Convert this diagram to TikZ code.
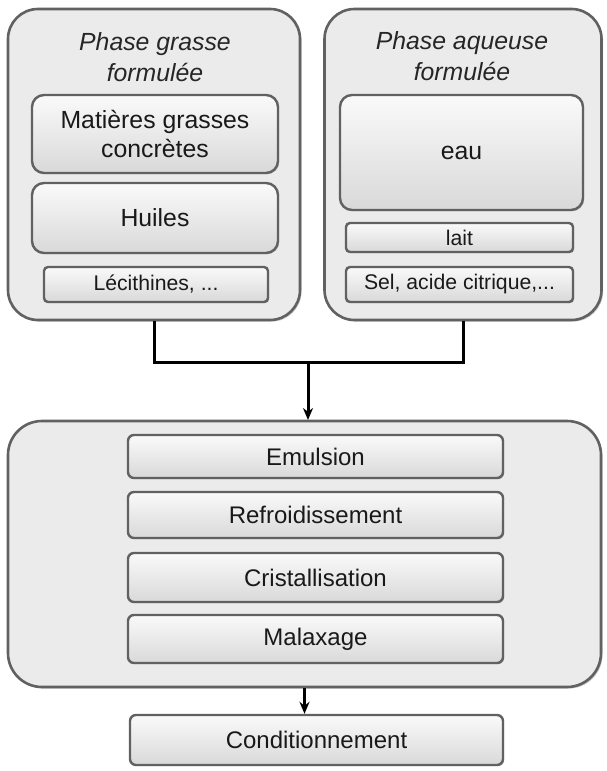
\documentclass[tikz,border=0pt]{standalone}
\usepackage{fontspec}
\setmainfont{Liberation Sans}
\usetikzlibrary{arrows.meta,positioning,calc,shadows}

\begin{document}
\begin{tikzpicture}[x=0.5pt,y=-0.5pt,>=Stealth,
  outer/.style={draw=black!62,line width=1.3pt,fill=black!8,rounded corners=15pt,
    drop shadow={shadow xshift=0.8pt,shadow yshift=-0.8pt,opacity=0.4}},
  inbox/.style={draw=black!62,line width=1.2pt,top color=black!2,bottom color=black!15,
    rounded corners=6pt,align=center,text=black!90,font=\fontsize{12.4}{14.6}\selectfont,
    drop shadow={shadow xshift=0.6pt,shadow yshift=-0.6pt,opacity=0.4}},
  slim/.style={inbox,rounded corners=2pt,font=\fontsize{10.6}{12}\selectfont},
  stage/.style={inbox,rounded corners=3pt,minimum width=187.5pt,font=\fontsize{12}{14}\selectfont},
  title/.style={align=center,text=black!85,font=\fontsize{12.4}{15.5}\selectfont\itshape},
  link/.style={line width=1.5pt,black}]
\useasboundingbox (0,0) rectangle (606,771);

% two formulated phases
\node[outer,minimum width=146pt,minimum height=155.5pt] (pg) at (154,164.5) {};
\node[outer,minimum width=138.5pt,minimum height=155.5pt] (pa) at (463,164.5) {};
\node[title] (tpg) at (155,57) {Phase grasse\\formulée};
\node[title] (tpa) at (462,56) {Phase aqueuse\\formulée};

\node[inbox,minimum width=123pt,minimum height=39pt] (mgc) at (155,134) {Matières grasses\\concrètes};
\node[inbox,minimum width=123pt,minimum height=35pt] (huil) at (155,218) {Huiles};
\node[slim,minimum width=112pt,minimum height=17.5pt] (lec) at (156,284.5) {Lécithines, ...};

\node[inbox,minimum width=121.5pt,minimum height=57.5pt] (eau) at (461.5,152.5) {eau};
\node[slim,minimum width=113.5pt,minimum height=14.5pt] (lait) at (459.5,237.5) {lait};
\node[slim,minimum width=113.5pt,minimum height=17.5pt] (sel) at (459.5,284.5) {Sel, acide citrique,...};

% joining the phases
\coordinate (j) at (308,362);
\draw[link] (pg.south) |- (j) -| (pa.south);
\draw[link,-{Stealth[length=6pt,width=5pt]}] (j) -- (j |- 0,420);

% process
\node[outer,rounded corners=17pt,minimum width=296.5pt,minimum height=133pt] (proc) at (304.5,554) {};
\node[stage,minimum height=21.5pt] (emul) at (315.5,456.5) {Emulsion};
\node[stage,minimum height=23pt] (refr) at (315.5,515) {Refroidissement};
\node[stage,minimum height=24.5pt] (crist) at (315.5,577.5) {Cristallisation};
\node[stage,minimum height=24pt] (malax) at (315.5,639) {Malaxage};

\node[stage,minimum width=186.5pt,minimum height=25pt] (cond) at (316.5,740) {Conditionnement};
\draw[link,-{Stealth[length=6pt,width=5pt]}] (proc.south) -- (proc.south |- cond.north);
\end{tikzpicture}
\end{document}
